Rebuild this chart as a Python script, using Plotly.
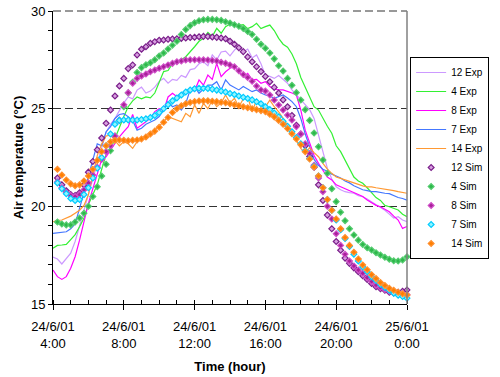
import pandas as pd
import plotly.graph_objects as go

# ---- time axes (15-min records) ----
exp_times = pd.date_range("2001-06-24 04:00", "2001-06-25 00:00", freq="15min")   # 81 points
sim_times = pd.date_range("2001-06-24 04:15", "2001-06-25 00:00", freq="15min")   # 80 points

# ---- measured (Exp) air temperatures, degC ----
exp_12 = [17.4, 17.3, 17.05, 17.3,
          17.6, 18.2, 19.0, 19.8,
          20.6, 21.5, 22.3, 23.1,
          23.8, 24.2, 24.5, 24.9,
          25.3, 25.6, 25.5, 25.95,
          26.1, 25.8, 25.9, 26.1,
          26.4, 26.55, 26.3, 26.5,
          26.45, 26.7, 26.6, 27.0,
          27.05, 27.3, 27.4, 27.2,
          27.75, 27.5, 27.9, 27.95,
          27.7, 28.0, 28.2, 27.9,
          28.05, 27.6, 27.75, 27.3,
          26.7, 26.65, 26.55, 26.7,
          26.5, 26.3, 25.96, 25.7,
          25.44, 25.2, 24.95, 24.5,
          23.6, 22.75, 21.95, 21.4,
          21.0, 20.85, 20.75, 20.7,
          20.67, 20.55, 20.49, 20.38,
          20.24, 20.1, 19.95, 19.8,
          19.6, 19.4, 19.47, 19.3,
          19.21]
exp_4 = [17.85, 18.0, 18.02, 18.05,
         18.3, 18.55, 18.95, 19.4,
         20.1, 20.6, 21.1, 21.9,
         22.65, 22.9, 23.45, 24.1,
         24.6, 25.1, 25.4, 25.6,
         25.5, 25.6, 25.55, 25.8,
         26.4, 26.9, 26.95, 27.3,
         27.4, 27.5, 27.66, 27.9,
         28.17, 28.45, 28.6, 28.9,
         28.7, 29.11, 28.86, 29.2,
         29.33, 29.23, 29.25, 29.3,
         29.1, 29.2, 29.37, 29.1,
         29.2, 29.28, 29.0, 28.6,
         28.3, 28.15, 27.8, 27.3,
         26.6, 26.1, 25.6, 25.1,
         24.93, 24.5, 24.1, 23.74,
         23.1, 22.8, 22.35, 21.95,
         21.5, 21.3, 21.18, 20.95,
         20.67, 20.45, 20.3, 20.05,
         19.98, 19.9, 19.81, 19.6,
         19.47]
exp_8 = [16.74, 16.4, 16.26, 16.4,
         16.83, 17.42, 18.27, 19.2,
         20.15, 20.9, 21.6, 22.4,
         22.54, 22.88, 23.23, 23.56,
         23.82, 24.08, 24.7, 24.0,
         24.16, 24.33, 24.5, 24.85,
         25.0, 24.9, 25.6, 25.79,
         25.61, 25.79, 25.85, 26.0,
         25.9, 26.47, 26.2, 26.72,
         26.5, 27.32, 26.64, 26.89,
         27.07, 27.15, 26.9, 26.64,
         26.81, 26.47, 26.5, 26.3,
         26.38, 26.13, 26.0, 25.96,
         25.96, 25.9, 25.8, 25.7,
         24.93, 23.9, 23.2, 22.6,
         22.2, 21.86, 21.5, 21.35,
         21.1, 21.0, 20.9, 20.83,
         20.7, 20.6, 20.5, 20.32,
         20.2, 20.05, 19.98, 19.85,
         19.72, 19.5, 19.3, 18.87,
         18.97]
exp_7 = [18.62, 18.64, 18.65, 18.7,
         18.85, 19.1, 19.9, 20.7,
         21.5, 22.4, 23.2, 23.1,
         23.82, 24.08, 24.5, 24.7,
         24.75, 24.59, 24.4, 23.9,
         24.0, 24.2, 24.3, 24.42,
         24.6, 24.93, 25.36, 25.1,
         25.19, 24.93, 25.27, 25.96,
         26.13, 25.79, 26.0, 26.21,
         26.21, 26.38, 25.96, 26.47,
         26.21, 26.1, 25.96, 26.13,
         26.0, 25.87, 25.96, 25.8,
         25.7, 25.65, 25.53, 25.6,
         25.7, 25.55, 25.36, 25.1,
         24.5, 23.7, 23.0, 22.4,
         22.1, 21.9, 21.8, 21.65,
         21.55, 21.45, 21.3, 21.2,
         21.05, 20.95, 20.85, 20.8,
         20.75, 20.75, 20.7, 20.67,
         20.65, 20.55, 20.45, 20.4,
         20.32]
exp_14 = [19.21, 19.28, 19.3, 19.38,
          19.5, 19.65, 19.8, 20.05,
          20.6, 21.6, 22.6, 23.2,
          23.6, 23.65, 23.39, 23.1,
          23.31, 23.2, 22.97, 23.31,
          23.39, 23.5, 23.65, 23.9,
          24.1, 24.33, 24.59, 24.5,
          24.4, 24.33, 24.76, 24.59,
          25.2, 24.76, 25.27, 25.0,
          25.44, 25.1, 25.3, 25.7,
          25.3, 25.53, 25.1, 25.5,
          25.61, 24.84, 25.44, 25.2,
          25.1, 25.44, 25.1, 24.84,
          24.5, 24.16, 23.82, 23.39,
          22.97, 22.71, 23.0, 22.75,
          22.54, 22.2, 21.9, 21.69,
          21.5, 21.43, 21.35, 21.26,
          21.2, 21.09, 21.05, 21.0,
          21.0, 20.95, 20.92, 20.88,
          20.83, 20.8, 20.75, 20.7,
          20.67]

# ---- simulated (Sim) air temperatures, degC ----
sim_12 = [21.45, 21.1, 20.8,
          20.6, 20.55, 20.7, 21.1,
          21.75, 22.3, 22.9, 23.5,
          24.25, 24.93, 25.65, 26.16,
          26.55, 27.05, 27.24, 27.75,
          28.04, 28.17, 28.35, 28.43,
          28.5, 28.52, 28.55, 28.57,
          28.58, 28.6, 28.62, 28.64,
          28.66, 28.68, 28.7, 28.69,
          28.67, 28.65, 28.62, 28.58,
          28.45, 28.3, 28.12, 27.92,
          27.65, 27.4, 27.15, 26.9,
          26.65, 26.38, 26.09, 25.8,
          25.45, 25.1, 24.65, 24.15,
          23.7, 23.1, 22.55, 22.0,
          21.1, 20.3, 19.55, 18.85,
          18.2, 17.75, 17.35, 17.08,
          16.85, 16.65, 16.45, 16.25,
          16.05, 15.88, 15.78, 15.7,
          15.6, 15.57, 15.6, 15.65,
          15.72]
sim_4 = [19.2, 19.1, 19.05,
         19.05, 19.2, 19.4, 19.65,
         20.0, 20.5, 21.0, 21.55,
         22.15, 22.85, 23.6, 24.4,
         25.1, 25.8, 26.35, 26.85,
         27.1, 27.25, 27.35, 27.5,
         27.7, 27.85, 28.05, 28.25,
         28.45, 28.8, 29.05, 29.25,
         29.4, 29.5, 29.55, 29.57,
         29.57, 29.55, 29.52, 29.45,
         29.38, 29.3, 29.22, 29.1,
         28.95, 28.8, 28.55, 28.3,
         28.09, 27.85, 27.55, 27.2,
         26.93, 26.55, 26.2, 25.82,
         25.44, 24.95, 24.4, 23.75,
         23.05, 22.37, 21.69, 20.9,
         20.24, 19.7, 19.26, 18.85,
         18.53, 18.27, 18.05, 17.88,
         17.76, 17.62, 17.51, 17.39,
         17.29, 17.21, 17.2, 17.25,
         17.42]
sim_8 = [21.25, 20.95, 20.7,
         20.55, 20.5, 20.6, 20.85,
         21.2, 21.6, 22.0, 22.4,
         22.8, 23.1, 23.6, 24.4,
         25.2, 25.82, 26.3, 26.55,
         26.67, 26.77, 26.89, 26.98,
         27.07, 27.15, 27.24, 27.32,
         27.4, 27.44, 27.49, 27.5,
         27.5, 27.5, 27.5, 27.49,
         27.47, 27.44, 27.38, 27.32,
         27.24, 27.15, 26.94, 26.75,
         26.6, 26.4, 26.16, 25.96,
         25.9, 25.7, 25.44, 25.19,
         24.93, 24.67, 24.42, 24.08,
         23.7, 23.2, 22.7, 22.1,
         21.45, 20.75, 20.0, 19.35,
         18.6, 18.0, 17.55, 17.2,
         16.95, 16.74, 16.57, 16.35,
         16.15, 15.97, 15.85, 15.75,
         15.65, 15.58, 15.52, 15.5,
         15.47]
sim_7 = [21.2, 20.9, 20.65,
         20.4, 20.3, 20.35, 20.6,
         20.95, 21.45, 21.95, 22.5,
         23.1, 23.7, 24.2, 24.4,
         24.42, 24.42, 24.42, 24.42,
         24.45, 24.48, 24.55, 24.65,
         24.8, 25.0, 25.2, 25.4,
         25.55, 25.7, 25.85, 25.95,
         26.02, 26.05, 26.05, 26.03,
         26.0, 25.95, 25.9, 25.85,
         25.78, 25.72, 25.65, 25.58,
         25.52, 25.45, 25.35, 25.25,
         25.1, 24.95, 24.78, 24.58,
         24.35, 24.1, 23.82, 23.52,
         23.2, 22.85, 22.45, 22.05,
         21.55, 20.95, 20.35, 19.8,
         19.3, 18.8, 18.35, 17.95,
         17.55, 17.2, 16.9, 16.65,
         16.4, 16.2, 16.0, 15.85,
         15.7, 15.55, 15.45, 15.38,
         15.3]
sim_14 = [21.9, 21.6, 21.35,
          21.15, 21.05, 21.1, 21.3,
          21.55, 21.9, 22.35, 22.8,
          23.1, 23.3, 23.38, 23.4,
          23.38, 23.36, 23.38, 23.4,
          23.45, 23.55, 23.7, 23.85,
          24.05, 24.3, 24.55, 24.8,
          25.0, 25.15, 25.25, 25.32,
          25.36, 25.39, 25.4, 25.4,
          25.38, 25.36, 25.33, 25.3,
          25.25, 25.2, 25.15, 25.1,
          25.05, 25.0, 24.95, 24.9,
          24.85, 24.72, 24.58, 24.4,
          24.2, 23.98, 23.72, 23.45,
          23.15, 22.8, 22.42, 22.02,
          21.55, 20.95, 20.35, 19.8,
          19.35, 18.85, 18.4, 18.0,
          17.65, 17.3, 17.0, 16.75,
          16.5, 16.3, 16.1, 15.95,
          15.8, 15.7, 15.6, 15.52,
          15.46]

# ---- tick labels ----
tick_times = pd.date_range("2001-06-24 04:00", "2001-06-25 00:00", freq="4h")
tick_labels = ["24/6/01<br>4:00", "24/6/01<br>8:00", "24/6/01<br>12:00",
               "24/6/01<br>16:00", "24/6/01<br>20:00", "25/6/01<br>0:00"]

exp_series = [("12 Exp", exp_12, "#CC99FF"),
              ("4 Exp", exp_4, "#33F033"),
              ("8 Exp", exp_8, "#FF00FF"),
              ("7 Exp", exp_7, "#4477FF"),
              ("14 Exp", exp_14, "#FF9933")]
sim_series = [("12 Sim", sim_12, "#D8A0E0", "#7A1F8A"),
              ("4 Sim", sim_4, "#2DB84A", "#55CC70"),
              ("8 Sim", sim_8, "#A8209A", "#D050C8"),
              ("7 Sim", sim_7, "#90F4FF", "#00CCFF"),
              ("14 Sim", sim_14, "#FF7F00", "#FF9030")]

fig = go.Figure()
for name, vals, col in exp_series:
    fig.add_trace(go.Scatter(x=exp_times, y=vals, mode="lines", name=name,
                             line=dict(color=col, width=1.2)))
for name, vals, fill, edge in sim_series:
    fig.add_trace(go.Scatter(x=sim_times, y=vals, mode="markers", name=name,
                             cliponaxis=False,
                             marker=dict(symbol="diamond", size=4.5, color=fill,
                                         line=dict(color=edge, width=1.2))))

font = "Liberation Sans, Arial, sans-serif"
fig.update_layout(
    width=500, height=377,
    margin=dict(l=53, r=85, t=11, b=73),
    paper_bgcolor="white", plot_bgcolor="white",
    font=dict(family=font, size=13, color="black"),
    showlegend=True,
    legend=dict(x=1.232, xanchor="right", y=0.843, yanchor="top",
                font=dict(size=10, family=font), bordercolor="black",
                borderwidth=1, bgcolor="white", itemwidth=30,
                tracegroupgap=0),
    xaxis=dict(range=[exp_times[0], exp_times[-1]], tickvals=tick_times,
               ticktext=tick_labels, ticks="outside", ticklen=5,
               tickcolor="black", showline=True, linecolor="black",
               linewidth=1, showgrid=False, zeroline=False, automargin=False,
               tickfont=dict(size=13), ticklabelstandoff=5,
               ticklabeloverflow="allow",
               minor=dict(dtick=3600000, ticks="inside", ticklen=4,
                          tickcolor="black", showgrid=False),
               title=dict(text="<b>Time (hour)</b>", font=dict(size=13),
                          standoff=12)),
    yaxis=dict(range=[15, 30], tickvals=[15, 20, 25, 30], ticks="outside",
               ticklen=4, tickcolor="black", showline=True,
               linecolor="black", linewidth=1, showgrid=True,
               gridcolor="#333333", griddash="8px,4px", gridwidth=1,
               zeroline=False, automargin=False, tickfont=dict(size=13),
               ticklabeloverflow="allow",
               minor=dict(dtick=1, ticks="outside", ticklen=4,
                          tickcolor="black", showgrid=False),
               title=dict(text="<b>Air temperature (°C)</b>",
                          font=dict(size=13), standoff=4)),
)
# plot frame: dashed top edge (30 degC gridline) and grey right edge
fig.add_shape(type="line", xref="paper", yref="paper", x0=0, x1=1, y0=1, y1=1,
              line=dict(color="#333333", width=1, dash="8px,4px"))
fig.add_shape(type="line", xref="paper", yref="paper", x0=1, x1=1, y0=0, y1=1,
              line=dict(color="#808080", width=1.5))
fig.write_html("out.html",
               config={"displayModeBar": False},
               post_script="document.body.style.margin='0';")
